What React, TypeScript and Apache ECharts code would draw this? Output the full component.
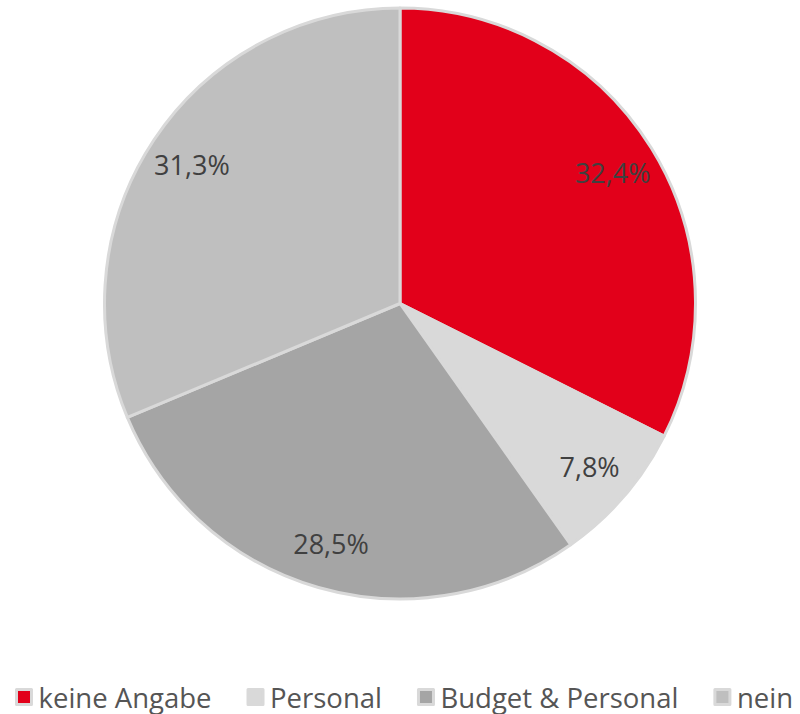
import React, { useEffect, useRef } from "react";
import * as echarts from "echarts";

const categories = ["keine Angabe", "Personal", "Budget & Personal", "nein"];
const values = [32.4, 7.8, 28.5, 31.3];
const colors = ["#e2001a", "#d9d9d9", "#a5a5a5", "#bfbfbf"];

const fmt = (v: number) => v.toFixed(1).replace(".", ",") + "%";

export default function App() {
  const ref = useRef<HTMLDivElement>(null);
  useEffect(() => {
    document.body.style.margin = "0";
    const chart = echarts.init(ref.current!, undefined, { renderer: "svg" });
    const data = categories.map((name, i) => ({
      name,
      value: values[i],
      itemStyle: { color: colors[i] },
    }));
    chart.setOption({
      animation: false,
      backgroundColor: "#ffffff",
      legend: {
        data: categories,
        left: 10,
        top: 678,
        itemWidth: 15,
        itemHeight: 15,
        itemGap: 35,
        icon: "rect",
        itemStyle: { borderColor: "#d9d9d9", borderWidth: 3 },
        textStyle: {
          fontFamily: "Open Sans",
          fontSize: 27.5,
          color: "#555555",
          padding: [0, 0, 0, 2],
        },
      },
      series: [
        {
          type: "pie",
          center: [400, 303.5],
          radius: [0, 295.5],
          startAngle: 90,
          clockwise: true,
          label: { show: false },
          labelLine: { show: false },
          itemStyle: { borderColor: "#d9d9d9", borderWidth: 3 },
          emphasis: { disabled: true },
          data,
        },
        {
          type: "pie",
          center: [400, 303.5],
          radius: [199, 295],
          startAngle: 90,
          clockwise: true,
          silent: true,
          label: {
            show: true,
            position: "inside",
            formatter: (p: any) => fmt(p.value),
            fontFamily: "Open Sans",
            fontSize: 27,
            color: "#404040",
          },
          labelLine: { show: false },
          itemStyle: { color: "rgba(0,0,0,0)", borderWidth: 0 },
          emphasis: { disabled: true },
          data: categories.map((name, i) => ({ name: name, value: values[i] })),
        },
      ],
    });
    return () => chart.dispose();
  }, []);
  return (
    <div
      ref={ref}
      style={{ position: "absolute", left: 0, top: 0, width: 800, height: 714 }}
    />
  );
}
